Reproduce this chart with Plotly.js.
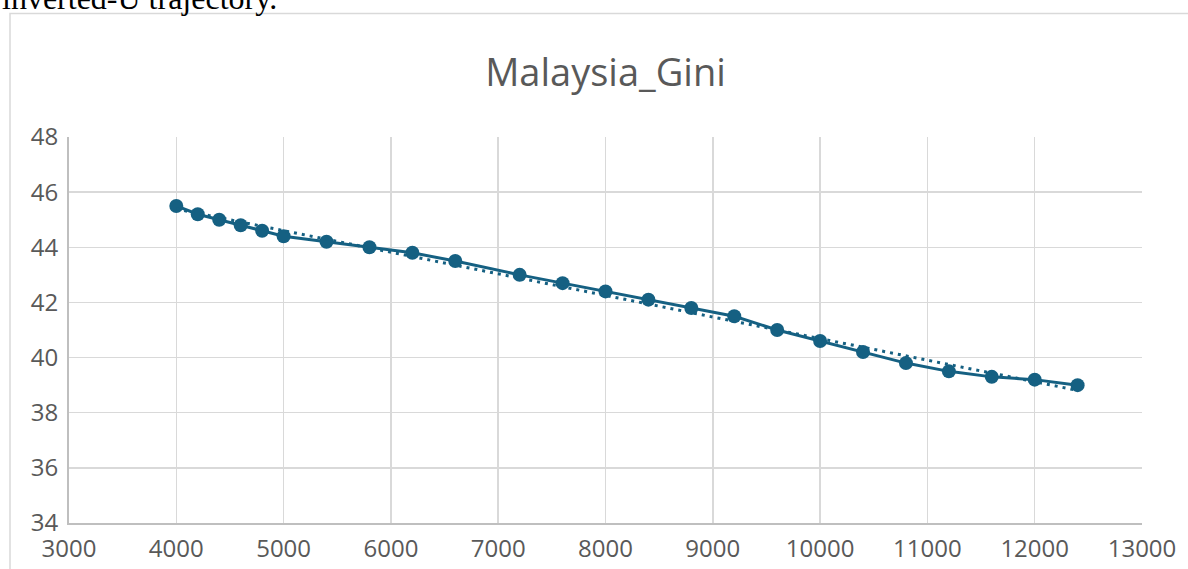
<!DOCTYPE html>
<html>
<head>
<meta charset="utf-8">
<script src="https://cdn.plot.ly/plotly-3.0.1.min.js"></script>
<style>html,body{margin:0;padding:0;background:#fff;}#chart{width:1188px;height:569px;}</style>
</head>
<body>
<div id="chart"></div>
<script>
const chartTitle = "Malaysia_Gini";
const captionText = "inverted-U trajectory.";
const income = [4000, 4200, 4400, 4600, 4800, 5000, 5400, 5800, 6200, 6600, 7200, 7600, 8000, 8400, 8800, 9200, 9600, 10000, 10400, 10800, 11200, 11600, 12000, 12400];
const gini = [45.5, 45.2, 45.0, 44.8, 44.6, 44.4, 44.2, 44.0, 43.8, 43.5, 43.0, 42.7, 42.4, 42.1, 41.8, 41.5, 41.0, 40.6, 40.2, 39.8, 39.5, 39.3, 39.2, 39.0];
const xTicks = [3000, 4000, 5000, 6000, 7000, 8000, 9000, 10000, 11000, 12000, 13000];
const yTicks = [34, 36, 38, 40, 42, 44, 46, 48];

// linear trendline (least squares) computed from the data
const n = income.length;
const mx = income.reduce((a, b) => a + b, 0) / n;
const my = gini.reduce((a, b) => a + b, 0) / n;
let sxy = 0, sxx = 0;
for (let i = 0; i < n; i++) { sxy += (income[i] - mx) * (gini[i] - my); sxx += (income[i] - mx) ** 2; }
const slope = sxy / sxx, intercept = my - slope * mx;
const trendX = [income[0], income[n - 1]];
const trendY = trendX.map(x => intercept + slope * x);

const col = "#156082";
const txt = "#595959";
const traces = [
  {x: income, y: gini, type: "scatter", mode: "lines+markers",
   line: {color: col, width: 3}, marker: {color: col, size: 14}, hoverinfo: "x+y"},
  {x: trendX, y: trendY, type: "scatter", mode: "lines",
   line: {color: col, width: 3, dash: "3px,5px"}, hoverinfo: "skip"}
];
const layout = {
  width: 1188, height: 569,
  margin: {l: 69, r: 46, t: 137, b: 46},
  paper_bgcolor: "#ffffff", plot_bgcolor: "#ffffff",
  showlegend: false,
  font: {family: "Open Sans, sans-serif", color: txt, size: 24},
  title: {text: chartTitle, x: 0.5, xref: "paper", xanchor: "center", y: 1 - 73 / 569, yref: "container", yanchor: "middle",
          font: {family: "Open Sans, sans-serif", size: 38, color: txt}},
  xaxis: {range: [3000, 13000], tickvals: xTicks, ticktext: xTicks.map(String),
          showgrid: true, gridcolor: "#d9d9d9", gridwidth: 1.5,
          showline: true, linecolor: "#bfbfbf", linewidth: 2, zeroline: false,
          ticks: "", ticklabelstandoff: 3, tickfont: {size: 24, color: txt}},
  yaxis: {range: [34, 48], tickvals: yTicks, ticktext: yTicks.map(String),
          showgrid: true, gridcolor: "#d9d9d9", gridwidth: 1.5,
          showline: true, linecolor: "#bfbfbf", linewidth: 2, zeroline: false,
          ticks: "", ticklabelstandoff: 4, tickfont: {size: 24, color: txt}},
  shapes: [
    {type: "rect", xref: "paper", yref: "paper", layer: "below",
     x0: (10 - 69) / 1073, x1: 1.3, y0: -0.3, y1: (523 - 13.5) / 386,
     line: {color: "#d9d9d9", width: 1.5}, fillcolor: "rgba(0,0,0,0)"}
  ],
  annotations: [
    {text: captionText, xref: "paper", yref: "paper", x: (279 - 69) / 1073, xanchor: "right",
     y: (523 + 2) / 386, yanchor: "middle", showarrow: false,
     font: {family: "Liberation Serif, Times New Roman, serif", size: 32, color: "#000000"}}
  ]
};
Plotly.newPlot("chart", traces, layout, {displayModeBar: false, staticPlot: true});
</script>
</body>
</html>
